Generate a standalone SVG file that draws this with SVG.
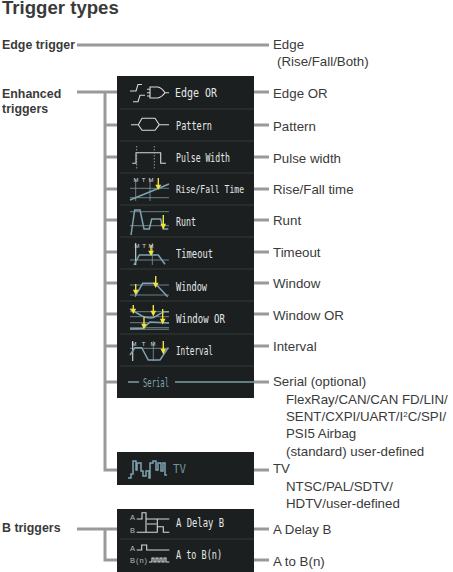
<svg xmlns="http://www.w3.org/2000/svg" width="453" height="572" viewBox="0 0 453 572">
<style>
text{font-family:"Liberation Sans",Arial,sans-serif;fill:#3a3a3a}
.t{font-size:13.3px}
.b{font-size:12.4px;font-weight:bold}
.h{font-size:18.6px;font-weight:bold}
.c{stroke:#999;stroke-width:3;fill:none}
.p{fill:#1c1f1f}
.d{stroke:#333b3b;stroke-width:1}
.m{font-family:"DejaVu Sans Mono","Liberation Mono",monospace;font-size:12.5px;fill:#e4e8e8}
.w{stroke:#d5dada;stroke-width:1.1;fill:none}
.v{stroke:#aab4b4;stroke-width:.8;fill:none}
.g{stroke:#7fa3b0;stroke-width:1.5;fill:none}
.l{stroke:#7f9aa3;stroke-width:.8;fill:none}
.y{stroke:#f2e23a;stroke-width:1.4;fill:#f2e23a}
.s{font-size:6px;fill:#d8dcdc}
.z{font-size:7.5px;fill:#b8bebe}
</style>
<text class="h" x="2" y="14">Trigger types</text>
<g id="connectors">
<path class="c" d="M77 45H269M77 92H117M105 92V470H117M105 125H117M105 157H117M105 189H117M105 220H117M105 252H117M105 283H117M105 314H117M105 346H117M105 382H117"/>
<path class="c" d="M254 92H269M254 125H269M254 157H269M254 189H269M254 220H269M254 252H269M254 283H269M254 314H269M254 346H269M254 382H269M254 470H269M254 529H269M254 560H269"/>
<path class="c" d="M77 529H117M105 529V560H117"/>
</g>
<g id="edge-trigger"><text class="b" x="2" y="49">Edge trigger</text></g>
<g id="enhanced-triggers"><text class="b" x="2" y="98">Enhanced</text><text class="b" x="2" y="113">triggers</text></g>
<g id="b-triggers"><text class="b" x="2" y="532">B triggers</text></g>
<g id="panel-enhanced">
<rect class="p" x="117" y="76" width="137" height="322"/>
<path class="d" d="M120 109H254M120 141H254M120 173H254M120 205H254M120 237H254M120 269H254M120 301H254M120 334H254M120 366H254"/>
<path class="w" d="M130 91H136L138 84.500H142M133 101.700H138L140 95.300H145M150 87H158Q162 88 165 92.700Q162 97 158 98H150ZM147 89.300H150M147 92.700H150M147 96H150M165 92.700H169"/>
<text class="m" x="175" y="96.500" textLength="42" lengthAdjust="spacingAndGlyphs">Edge OR</text>
<path class="w" d="M131 124.700H138.300L142 118.300H155L159.300 124.700L155 130.300H142L138.300 124.700M159.300 124.700H169"/>
<text class="m" x="176" y="129.500" textLength="36" lengthAdjust="spacingAndGlyphs">Pattern</text>
<path class="w" d="M132.300 163.300H136V152.700H160.700V163.300H166"/>
<path class="v" stroke-dasharray="1.500 1.500" d="M136.700 146V169M154.300 146V169"/>
<text class="m" x="176" y="161.500" textLength="54" lengthAdjust="spacingAndGlyphs">Pulse Width</text>
<path class="l" d="M130 188.300H169M130 197.700H169M135.700 179V201M150 179V201"/>
<path class="g" d="M130 200L169 184"/>
<path class="y" d="M158.300 178V186M156.500 185.500L158.300 188.500L160 185.500Z"/>
<text class="s" x="133.500" y="182" textLength="20">M T M</text>
<text class="m" style="font-size:11px" x="176" y="193" textLength="68" lengthAdjust="spacingAndGlyphs">Rise/Fall Time</text>
<path class="l" d="M130 211.700H169M130 225.700H169"/>
<path class="g" d="M131 235L134.700 210H140L144 229H149.300L151.700 219H160.700L163.300 229H168.300"/>
<path class="y" d="M163.300 215V225M161.500 224.500L163.300 228L165 224.500Z"/>
<text class="m" x="176" y="225.500" textLength="20" lengthAdjust="spacingAndGlyphs">Runt</text>
<path class="l" d="M130 260H169M152.300 243V265"/>
<path class="w" d="M135.700 243V265"/>
<path class="g" d="M134 265L139.300 255H158.300L165 264.300"/>
<path class="y" d="M151 245V252M149.300 251.500L151 254.500L152.700 251.500Z"/>
<text class="s" x="134.500" y="248" textLength="19">M T M</text>
<text class="m" x="176" y="257.500" textLength="37" lengthAdjust="spacingAndGlyphs">Timeout</text>
<path class="l" d="M130 285H169M130 295H169"/>
<path class="g" d="M135 296.700L142.700 283.300H155L167.700 296.700"/>
<path class="y" d="M135.700 284V291M134 290.500L135.700 293.500L137.400 290.500ZM155.700 276V284M154 283.500L155.700 286.500L157.400 283.500Z"/>
<text class="m" x="176" y="290.500" textLength="31" lengthAdjust="spacingAndGlyphs">Window</text>
<path class="l" d="M130 311.700H169M130 316.700H169M130 322.700H169M130 327.700H169M130 329.300H169"/>
<path class="g" d="M130 309L142 316Q152 320 156 316L164 311.700H169M130 329L143 328.500L150 322L169 323"/>
<path class="y" d="M133.300 305V310M131.600 309.500L133.300 312.500L135 309.500ZM153.300 305V312M151.600 311.500L153.300 315L155 311.500ZM144 317V325M142.300 324.500L144 328L145.700 324.500ZM162.700 309V320M161 319.500L162.700 323L164.400 319.500Z"/>
<text class="m" x="176" y="322.500" textLength="49" lengthAdjust="spacingAndGlyphs">Window OR</text>
<path class="l" d="M130 348.300H169M153.300 341V361"/>
<path class="w" d="M132.700 341V361"/>
<path class="g" d="M130 355L135 347.700H141.700L148.300 360H160L168.300 347.700"/>
<path class="y" d="M163.300 341V350M161.600 349.500L163.300 353L165 349.500Z"/>
<text class="s" x="131.500" y="345.500" textLength="24">M T M</text>
<text class="m" x="176" y="354.500" textLength="37" lengthAdjust="spacingAndGlyphs">Interval</text>
<path stroke="#a9dde8" stroke-width="1" fill="none" d="M128 382H139M175 382H254"/>
<text class="m" style="fill:#7fa3b0" x="143" y="386.500" textLength="26" lengthAdjust="spacingAndGlyphs">Serial</text>
</g>
<g id="panel-tv">
<rect class="p" x="117" y="452" width="137" height="33"/>
<path class="g" d="M128 478H131V474H133V461H136V470H137V463H141V471H143V476H146V471H149V478H150V463H153V461H156V470H158V463H161V471H163V463H165V475H167"/>
<text class="m" style="fill:#6f939f;font-size:13px" x="173" y="473" textLength="13" lengthAdjust="spacingAndGlyphs">TV</text>
</g>
<g id="panel-b">
<rect class="p" x="117" y="509" width="137" height="63"/>
<path class="d" d="M120 539H254"/>
<path class="w" d="M136.700 519H142V512.700H146V519H169.300M136.700 532.300H157.300V526.700H163.300V532.300H169.300M146 519V532.300M157.300 519V532.300M147 524H156.500"/>
<text class="z" x="130" y="519.500">A</text><text class="z" x="130" y="533">B</text>
<text class="m" x="176" y="527" textLength="48" lengthAdjust="spacingAndGlyphs">A Delay B</text>
<path class="w" d="M136.700 550H141.700V545H146.700V550H169.300M149 562H152V558H154V562H156V558H158V562H160V558H162V562H164V558H166V562H169.300"/>
<text class="z" x="130" y="563" textLength="17">B(n)</text><text class="z" x="130" y="551">A</text>
<text class="m" x="176" y="559" textLength="46" lengthAdjust="spacingAndGlyphs">A to B(n)</text>
</g>
<g id="labels">
<text class="t" x="273" y="49">Edge</text>
<text class="t" x="277" y="66">(Rise/Fall/Both)</text>
<text class="t" x="273" y="98">Edge OR</text>
<text class="t" x="273" y="131">Pattern</text>
<text class="t" x="273" y="163">Pulse width</text>
<text class="t" x="273" y="194">Rise/Fall time</text>
<text class="t" x="273" y="225">Runt</text>
<text class="t" x="273" y="257">Timeout</text>
<text class="t" x="273" y="288">Window</text>
<text class="t" x="273" y="320">Window OR</text>
<text class="t" x="273" y="351">Interval</text>
<text class="t" x="273" y="386">Serial (optional)</text>
<text class="t" x="286" y="404">FlexRay/CAN/CAN FD/LIN/</text>
<text class="t" x="286" y="421">SENT/CXPI/UART/I<tspan font-size="8" dy="-4">2</tspan><tspan dy="4">C/SPI/</tspan></text>
<text class="t" x="286" y="438">PSI5 Airbag</text>
<text class="t" x="286" y="456">(standard) user-defined</text>
<text class="t" x="273" y="473">TV</text>
<text class="t" x="286" y="491">NTSC/PAL/SDTV/</text>
<text class="t" x="286" y="508">HDTV/user-defined</text>
<text class="t" x="273" y="534">A Delay B</text>
<text class="t" x="273" y="566">A to B(n)</text>
</g>
</svg>
